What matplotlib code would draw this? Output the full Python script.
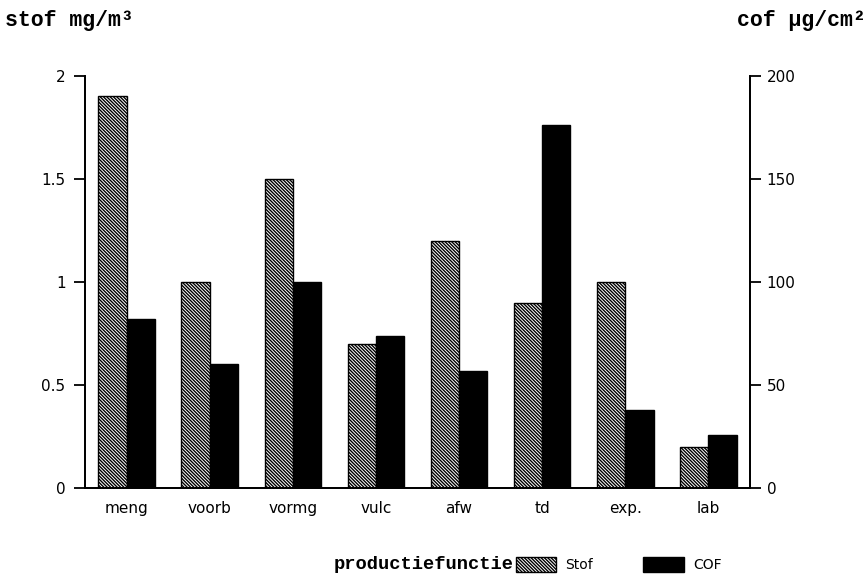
import numpy as np
import matplotlib.pyplot as plt
from matplotlib.patches import Patch

# stof- en cof-blootstelling per productiefunctie
functies = ['meng', 'voorb', 'vormg', 'vulc', 'afw', 'td', 'exp.', 'lab']
stof = [1.90, 1.00, 1.50, 0.70, 1.20, 0.90, 1.00, 0.20]   # mg/m3
cof = [82, 60, 100, 74, 57, 176, 38, 26]                   # ug/cm2

plt.rcParams['hatch.linewidth'] = 1.0
plt.rcParams['font.family'] = 'DejaVu Sans'
HATCH = '\\' * 10

fig = plt.figure(figsize=(8.68, 5.79), dpi=100)
ax = fig.add_axes([0.098, 0.157, 0.766, 0.712])
ax2 = ax.twinx()

x = np.arange(len(functies))
w = 0.34

ax.bar(x - w / 2, stof, w, facecolor='white', edgecolor='black',
       hatch=HATCH, linewidth=1.0, zorder=2)
ax2.bar(x + w / 2, cof, w, color='black', edgecolor='black', linewidth=1.0, zorder=2)

ax.set_xlim(-0.5, len(functies) - 0.5)
ax.set_ylim(0, 2)
ax2.set_ylim(0, 200)
ax.set_yticks([0, 0.5, 1, 1.5, 2])
ax.set_yticklabels(['0', '0.5', '1', '1.5', '2'])
ax2.set_yticks([0, 50, 100, 150, 200])
ax.set_xticks(x)
ax.set_xticklabels(functies)

for a in (ax, ax2):
    a.spines['top'].set_visible(False)
    for s in a.spines.values():
        s.set_linewidth(1.3)
ax.tick_params(axis='y', direction='out', length=8, width=1.3, labelsize=11, pad=6)
ax2.tick_params(axis='y', direction='out', length=8, width=1.3, labelsize=11, pad=4)
ax.tick_params(axis='x', length=0, labelsize=11, pad=9)

mono = 'Liberation Mono'
fig.text(0.006, 0.955, 'stof mg/m³', fontfamily=mono, fontweight='bold', fontsize=15.5,
         ha='left', va='baseline')
fig.text(0.997, 0.955, 'cof μg/cm²', fontfamily=mono, fontweight='bold', fontsize=15.5,
         ha='right', va='baseline')

handles = [Patch(facecolor='white', edgecolor='black', hatch=HATCH, label='Stof'),
           Patch(facecolor='black', edgecolor='black', label='COF')]
leg = fig.legend(handles=handles, loc='center left', bbox_to_anchor=(0.594, 0.025),
                 ncol=2, frameon=False, fontsize=10, handlelength=2.9, handleheight=1.3,
                 columnspacing=3.6, handletextpad=0.7, borderaxespad=0, borderpad=0)
fig.text(0.592, 0.025, 'productiefunctie', fontfamily=mono, fontweight='bold', fontsize=13.5,
         ha='right', va='center')

fig.savefig('out.png', dpi=100)
